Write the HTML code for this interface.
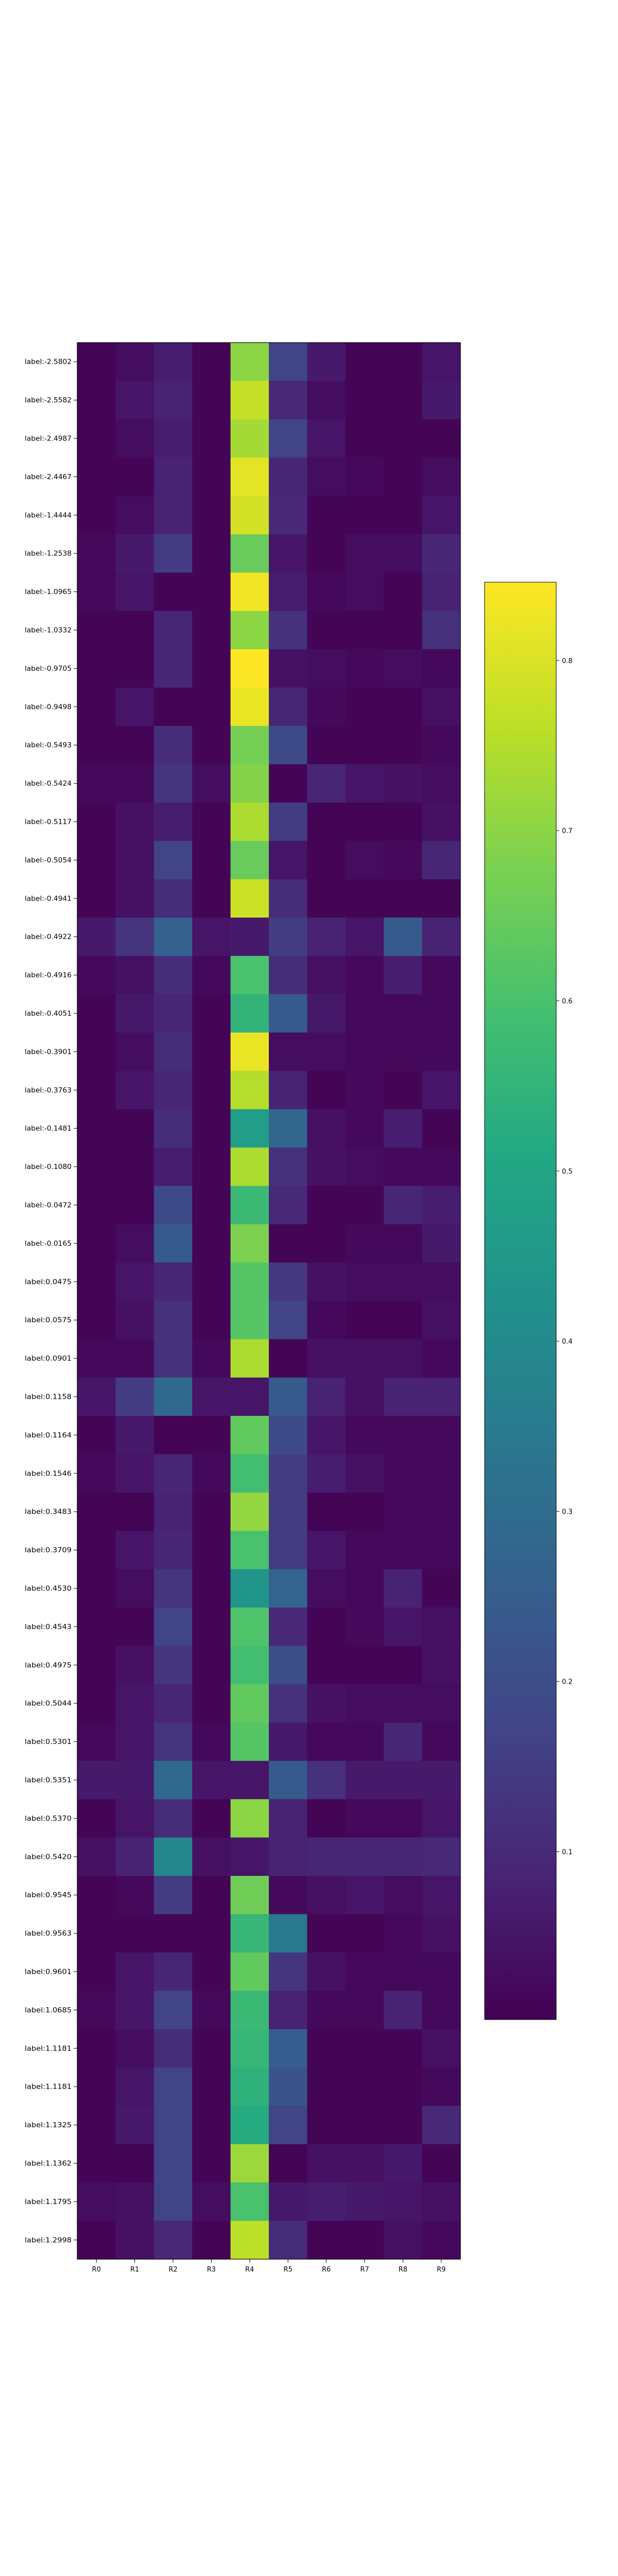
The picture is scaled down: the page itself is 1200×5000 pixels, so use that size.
<!DOCTYPE html>
<html><head><meta charset="utf-8"><style>html,body{margin:0;padding:0;background:#fff}svg{display:block}</style></head>
<body>
<svg id="chart" width="1200" height="5000" viewBox="0 0 1200 5000" xmlns="http://www.w3.org/2000/svg" font-family="'DejaVu Sans','Liberation Sans',sans-serif">
<rect width="1200" height="5000" fill="#fff"/>
<g id="cells"></g>
<g id="yaxis"></g>
<g id="xaxis"></g>
<g id="cbar"></g>
</svg>
<script>
const rowLabels = ["-2.5802","-2.5582","-2.4987","-2.4467","-1.4444","-1.2538","-1.0965","-1.0332","-0.9705","-0.9498","-0.5493","-0.5424","-0.5117","-0.5054","-0.4941","-0.4922","-0.4916","-0.4051","-0.3901","-0.3763","-0.1481","-0.1080","-0.0472","-0.0165","0.0475","0.0575","0.0901","0.1158","0.1164","0.1546","0.3483","0.3709","0.4530","0.4543","0.4975","0.5044","0.5301","0.5351","0.5370","0.5420","0.9545","0.9563","0.9601","1.0685","1.1181","1.1181","1.1325","1.1362","1.1795","1.2998"];
const colLabels = ["R0","R1","R2","R3","R4","R5","R6","R7","R8","R9"];
const r0 = [.01,.01,.01,.01,.01,.02,.02,.01,.01,.01,.01,.02,.01,.01,.01,.06,.02,.01,.01,.01,.01,.01,.01,.01,.01,.01,.02,.05,.01,.02,.01,.01,.01,.01,.01,.01,.02,.06,.01,.04,.01,.01,.01,.02,.01,.01,.01,.01,.03,.01];
const r1 = [.03,.05,.03,.01,.03,.06,.05,.01,.01,.05,.01,.02,.04,.04,.04,.13,.04,.06,.03,.05,.01,.01,.01,.03,.05,.04,.02,.15,.06,.05,.01,.05,.03,.01,.04,.05,.05,.06,.05,.08,.02,.01,.05,.05,.03,.05,.06,.01,.04,.04];
const r2 = [.07,.08,.07,.08,.08,.15,.01,.09,.09,.01,.11,.13,.07,.17,.11,.26,.11,.09,.11,.09,.11,.07,.19,.24,.09,.12,.12,.29,.01,.09,.08,.09,.13,.17,.13,.09,.13,.29,.11,.39,.15,.01,.09,.17,.11,.17,.17,.17,.17,.10];
const r3 = [.01,.01,.01,.01,.01,.01,.01,.01,.01,.01,.01,.03,.01,.01,.01,.05,.02,.01,.01,.01,.01,.01,.01,.01,.01,.01,.02,.05,.01,.02,.01,.01,.01,.01,.01,.01,.02,.05,.01,.04,.01,.01,.01,.02,.01,.01,.01,.01,.03,.01];
const r4 = [.70,.77,.73,.81,.79,.65,.83,.70,.846,.82,.67,.69,.74,.65,.78,.06,.60,.55,.82,.75,.47,.74,.57,.68,.62,.62,.74,.05,.64,.59,.71,.60,.44,.61,.59,.64,.62,.05,.70,.05,.66,.56,.64,.57,.56,.54,.52,.72,.60,.76];
const r5 = [.17,.10,.17,.09,.10,.05,.07,.12,.04,.09,.19,.01,.15,.05,.11,.15,.11,.24,.03,.08,.28,.12,.10,.01,.14,.17,.01,.24,.19,.15,.15,.15,.27,.10,.20,.12,.06,.24,.08,.08,.02,.34,.13,.08,.25,.22,.17,.01,.06,.11];
const r6 = [.06,.03,.05,.03,.01,.01,.02,.01,.03,.02,.01,.09,.01,.01,.01,.08,.04,.06,.03,.01,.04,.04,.01,.01,.04,.02,.04,.08,.05,.07,.01,.05,.03,.01,.01,.04,.02,.12,.01,.09,.04,.01,.04,.02,.01,.01,.01,.04,.07,.01];
const r7 = [.01,.01,.01,.02,.01,.03,.03,.01,.02,.01,.01,.05,.01,.03,.01,.05,.02,.02,.02,.02,.02,.03,.01,.02,.03,.01,.04,.04,.02,.04,.01,.02,.02,.02,.01,.03,.02,.06,.02,.09,.05,.01,.02,.02,.01,.01,.01,.04,.06,.01];
const r8 = [.01,.01,.01,.01,.01,.03,.01,.01,.03,.01,.01,.04,.01,.02,.01,.24,.07,.02,.02,.01,.07,.02,.09,.02,.03,.01,.04,.08,.02,.02,.02,.02,.08,.05,.01,.03,.09,.06,.02,.09,.03,.02,.02,.08,.01,.01,.01,.06,.05,.04];
const r9 = [.05,.06,.01,.03,.05,.09,.08,.12,.02,.04,.02,.03,.04,.09,.01,.08,.02,.02,.02,.05,.01,.02,.07,.06,.03,.04,.02,.08,.02,.02,.02,.02,.01,.04,.04,.03,.02,.06,.05,.10,.05,.04,.02,.02,.04,.02,.10,.01,.04,.02];
const cbTicks = [0.1,0.2,0.3,0.4,0.5,0.6,0.7,0.8];
const columns = [r0,r1,r2,r3,r4,r5,r6,r7,r8,r9];

const VMIN = 0.0013, VMAX = 0.846;
const PX0 = 150, PX1 = 894, PY0 = 665, PY1 = 4385;
const CBX = 941, CBW = 139, CBY0 = 1130, CBY1 = 3920;
const NS = "http://www.w3.org/2000/svg";
const VIR = ["#440154","#482475","#414487","#355f8d","#2a788e","#21918c","#22a884","#44bf70","#7ad151","#bddf26","#fde725"];
function hx(h){return [1,3,5].map(i=>parseInt(h.substr(i,2),16));}
function viridis(t){
  t=Math.max(0,Math.min(1,t));
  const p=t*10, i=Math.min(9,Math.floor(p)), f=p-i;
  const a=hx(VIR[i]), b=hx(VIR[i+1]);
  return "rgb("+a.map((v,k)=>Math.round(v+(b[k]-v)*f)).join(",")+")";
}
const xScale = c => PX0 + c*(PX1-PX0)/colLabels.length;
const yScale = r => PY0 + r*(PY1-PY0)/rowLabels.length;
const cbScale = v => CBY0 + (VMAX-v)/(VMAX-VMIN)*(CBY1-CBY0);
function mk(tag, attrs, parent){const e=document.createElementNS(NS,tag);for(const k in attrs)e.setAttribute(k,attrs[k]);parent.appendChild(e);return e;}

const cells=document.getElementById('cells');
const cw=(PX1-PX0)/colLabels.length, ch=(PY1-PY0)/rowLabels.length;
columns.forEach((col,c)=>col.forEach((v,r)=>{
  const e=mk('rect',{x:xScale(c),y:yScale(r),width:cw+0.6,height:ch+0.6,fill:viridis((v-VMIN)/(VMAX-VMIN))},cells);
  
  
}));
const frame=mk('rect',{x:PX0,y:PY0,width:PX1-PX0,height:PY1-PY0,fill:'none',stroke:'#000','stroke-width':1.2},cells);



const ya=document.getElementById('yaxis');
rowLabels.forEach((l,r)=>{
  const y=yScale(r)+ch/2;
  const t=mk('line',{x1:PX0-7,x2:PX0,y1:y,y2:y,stroke:'#000','stroke-width':1},ya);
  
  
  const tx=mk('text',{x:PX0-11,y:y+4.5,'text-anchor':'end','font-size':13,fill:'#000',textLength:91,lengthAdjust:'spacingAndGlyphs'},ya);
  tx.textContent='label:'+l;
  
  
});
const xa=document.getElementById('xaxis');
colLabels.forEach((l,c)=>{
  const x=xScale(c)+cw/2;
  const t=mk('line',{x1:x,x2:x,y1:PY1,y2:PY1+7,stroke:'#000','stroke-width':1},xa);
  
  
  const tx=mk('text',{x:x,y:PY1+24,'text-anchor':'middle','font-size':13,fill:'#000'},xa);
  tx.textContent=l;
  
  
});

const cb=document.getElementById('cbar');
const defs=mk('defs',{},cb);
const g=mk('linearGradient',{id:'vg',x1:0,y1:1,x2:0,y2:0},defs);
VIR.forEach((c,i)=>mk('stop',{offset:(i*10)+'%','stop-color':c},g));
const cbr=mk('rect',{x:CBX,y:CBY0,width:CBW,height:CBY1-CBY0,fill:'url(#vg)',stroke:'#000','stroke-width':1},cb);


cbTicks.forEach(v=>{
  const y=cbScale(v);
  const t=mk('line',{x1:CBX+CBW,x2:CBX+CBW+6,y1:y,y2:y,stroke:'#000','stroke-width':1},cb);
  
  
  const tx=mk('text',{x:CBX+CBW+11,y:y+5,'font-size':13,fill:'#000'},cb);
  tx.textContent=v.toFixed(1);
  
  
});
</script>
</body></html>
